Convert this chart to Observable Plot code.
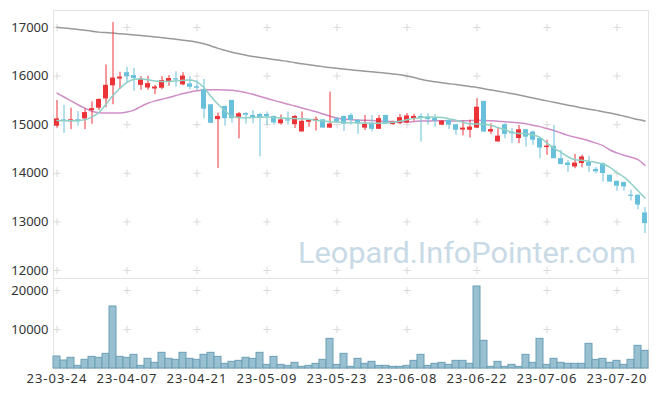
<!DOCTYPE html>
<html><head><meta charset="utf-8">
<script src="https://cdn.jsdelivr.net/npm/d3@7"></script>
<script src="https://cdn.jsdelivr.net/npm/@observablehq/plot@0.6"></script>
<style>
body{margin:0;background:#fff;}
#wrap{position:relative;width:657px;height:396px;overflow:hidden;}
#wrap svg{position:absolute;left:0;}
</style></head><body><div id="wrap"></div>
<script>
const dates = ["23-03-24","23-03-27","23-03-28","23-03-29","23-03-30","23-03-31","23-04-03","23-04-04","23-04-05","23-04-06",
"23-04-07","23-04-10","23-04-11","23-04-12","23-04-13","23-04-14","23-04-17","23-04-18","23-04-19","23-04-20",
"23-04-21","23-04-24","23-04-25","23-04-26","23-04-27","23-04-28","23-05-02","23-05-03","23-05-04","23-05-08",
"23-05-09","23-05-10","23-05-11","23-05-12","23-05-15","23-05-16","23-05-17","23-05-18","23-05-19","23-05-22",
"23-05-23","23-05-24","23-05-25","23-05-26","23-05-30","23-05-31","23-06-01","23-06-02","23-06-05","23-06-07",
"23-06-08","23-06-09","23-06-12","23-06-13","23-06-14","23-06-15","23-06-16","23-06-19","23-06-20","23-06-21",
"23-06-22","23-06-23","23-06-26","23-06-27","23-06-28","23-06-29","23-06-30","23-07-03","23-07-04","23-07-05",
"23-07-06","23-07-07","23-07-10","23-07-11","23-07-12","23-07-13","23-07-14","23-07-17","23-07-18","23-07-19",
"23-07-20","23-07-21","23-07-24","23-07-25","23-07-26"];

const open = [14970,15100,15060,15100,15120,15290,15340,15530,15800,15940,
16070,16010,15810,15755,15735,15750,15890,15945,15820,15840,
15780,15720,15410,15105,15375,15500,15125,15230,15190,15210,
15210,15170,15020,15100,15000,14850,15050,15075,15100,14930,
15120,15170,15190,15090,14930,15020,14905,15190,15000,15020,
15035,15125,15170,15155,15125,14990,15090,15000,14890,14885,
14930,15480,14850,14645,15000,14850,14715,14895,14850,14715,
14530,14555,14300,14210,14130,14200,14220,14080,14200,13960,
13835,13810,13550,13550,13185];
const high = [15500,15400,15340,15270,15330,15470,15530,16230,17100,16080,
16180,16160,15990,16000,15810,15990,16010,16090,16070,15990,
15910,15930,15410,15240,15380,15500,15250,15250,15290,15230,
15260,15180,15200,15260,15190,15260,15100,15160,15110,15670,
15140,15180,15230,15100,15190,15190,15190,15195,15070,15210,
15230,15210,15225,15226,15210,15080,15100,15010,15070,15090,
15535,15480,15020,14930,15020,14920,14985,14900,14870,14730,
14680,14985,14470,14260,14390,14370,14350,14120,14210,13965,
13840,13820,13650,13555,13295];
const low = [14930,14820,14900,14970,14900,15010,15290,15350,15410,15730,
15860,15690,15710,15710,15620,15720,15790,15770,15800,15720,
15700,15120,15020,14100,14970,15030,14710,15010,15020,14340,
14990,14990,14990,14990,14920,14850,14950,14870,14930,14920,
15030,14860,14990,14800,14880,14850,14900,15000,14990,15000,
15020,15070,14640,14990,14950,14980,14900,14780,14770,14725,
14920,14840,14795,14640,14710,14610,14610,14540,14575,14300,
14370,14300,14175,14020,14095,14115,14020,13990,13820,13815,
13630,13630,13430,13250,12760];
const close = [15120,15070,15100,15060,15250,15330,15520,15810,15960,15980,
15990,15950,15925,15845,15775,15910,15950,15920,16000,15770,
15750,15320,15030,15170,15125,15125,15225,15195,15140,15140,
15170,15035,15100,15075,15170,15070,15090,15110,14930,15015,
15055,15010,15090,15020,15005,14905,15125,15020,15055,15145,
15180,15170,15130,15105,15075,15075,14990,14885,14930,14950,
15360,14850,14900,14765,14800,14815,14895,14745,14680,14520,
14560,14300,14180,14160,14210,14335,14145,14030,13995,13820,
13735,13720,13525,13345,12965];
const volume = [3080,2050,2740,680,2220,2990,2740,3760,15900,2990,
2740,3500,680,2480,1450,4020,2480,2220,4020,2480,
2220,3500,4020,2990,1200,1710,1960,2740,2480,4020,
940,2990,940,680,1450,430,680,1200,2220,7600,
940,3760,430,2480,1200,1710,680,680,430,430,
680,1960,3500,680,1200,1450,940,1960,1960,1200,
21030,7100,430,1710,430,940,430,3500,1450,7600,
940,2480,1450,1200,1200,1200,6320,2220,2480,1450,
1960,940,2220,5810,4530];
const ma5 = [15085,15080,15080,15085,15100,15160,15250,15420,15600,15750,
15870,15935,15945,15925,15900,15890,15890,15900,15915,15920,
15880,15760,15580,15420,15290,15170,15150,15145,15150,15155,
15157,15150,15140,15130,15125,15120,15110,15090,15075,15060,
15055,15045,15040,15035,15035,15030,15030,15035,15050,15070,
15100,15130,15150,15157,15155,15150,15120,15090,15050,15020,
15015,15010,14990,14940,14900,14840,14820,14815,14790,14740,
14620,14520,14430,14340,14280,14270,14250,14220,14190,14120,
14010,13920,13790,13640,13490];
const ma20 = [15650,15570,15490,15410,15340,15275,15245,15240,15240,15240,
15260,15300,15375,15440,15490,15525,15560,15600,15640,15675,
15700,15715,15719,15719,15715,15707,15690,15660,15625,15580,
15540,15500,15460,15420,15385,15345,15305,15265,15220,15175,
15140,15115,15100,15095,15090,15085,15078,15072,15065,15058,
15058,15065,15075,15078,15080,15080,15078,15078,15080,15085,
15090,15088,15080,15070,15060,15050,15040,15020,14990,14960,
14920,14880,14830,14780,14740,14710,14670,14620,14570,14480,
14420,14370,14330,14280,14160];
const ma120 = [17005,16990,16975,16960,16945,16925,16905,16895,16885,16872,
16860,16848,16835,16820,16805,16790,16775,16758,16740,16720,
16695,16665,16620,16570,16530,16490,16460,16430,16405,16385,
16360,16340,16320,16300,16275,16255,16235,16215,16195,16175,
16160,16145,16130,16115,16100,16090,16075,16060,16045,16030,
16000,15970,15935,15905,15885,15865,15845,15825,15805,15785,
15765,15740,15715,15690,15665,15640,15610,15580,15550,15520,
15490,15460,15430,15400,15375,15345,15320,15295,15265,15240,
15210,15175,15140,15105,15075];
const tickDates = ["23-03-24","23-04-07","23-04-21","23-05-09","23-05-23","23-06-08","23-06-22","23-07-06","23-07-20"];
const priceTicks = [12000,13000,14000,15000,16000,17000];
const volumeTicks = [10000,20000];
const watermark = "Leopard.InfoPointer.com";

const UP = "#ec3338", DOWN = "#68c0da", FRAME = "#e3e3e3", PLUS = "#d9d9d9";
const rows = dates.map((d, i) => ({date: d, open: open[i], high: high[i], low: low[i], close: close[i],
  volume: volume[i], ma5: ma5[i], ma20: ma20[i], ma120: ma120[i],
  color: close[i] >= open[i] ? UP : DOWN}));
const gridMain = tickDates.flatMap(d => priceTicks.map(p => ({date: d, v: p})));
const gridVol = tickDates.flatMap(d => volumeTicks.map(p => ({date: d, v: p})));

const font = {fontSize: "13px", fontFamily: "'Noto Sans', sans-serif", color: "#333", background: "transparent"};
const W = 657;

const main = Plot.plot({
  width: W, height: 279,
  marginLeft: 53, marginRight: 9, marginTop: 10, marginBottom: 1,
  style: font,
  x: {type: "band", domain: dates, padding: 0, axis: null},
  y: {domain: [11835, 17350], ticks: priceTicks, tickSize: 0, tickPadding: 5, label: null, tickFormat: d => String(d)},
  color: {type: "identity"},
  marks: [
    Plot.frame({stroke: FRAME}),
    Plot.dot(gridMain, {x: "date", y: "v", symbol: "plus", r: 2.5, stroke: PLUS, strokeWidth: 1}),
    Plot.line(rows, {x: "date", y: "ma120", stroke: "#999999", strokeWidth: 1.5, curve: "monotone-x"}),
    Plot.line(rows, {x: "date", y: "ma20", stroke: "#cf8dc6", strokeWidth: 1.5, curve: "monotone-x"}),
    Plot.ruleX(rows, {x: "date", y1: "low", y2: "high", stroke: "color", strokeWidth: 1}),
    Plot.barY(rows, {x: "date", y1: "open", y2: "close", fill: "color", insetLeft: 1, insetRight: 1}),
    Plot.line(rows, {x: "date", y: "ma5", stroke: "#8ed0c6", strokeWidth: 1.5, curve: "monotone-x"})
  ]
});
main.style.top = "0px";

d3.select(main).insert("text", "g")
  .attr("x", 298).attr("y", 263)
  .attr("text-anchor", "start")
  .attr("font-size", 30)
  .attr("font-family", "Roboto, sans-serif")
  .attr("fill", "#c8dae6")
  .attr("textLength", 338)
  .attr("lengthAdjust", "spacingAndGlyphs")
  .text(watermark);

const vol = Plot.plot({
  width: W, height: 119,
  marginLeft: 53, marginRight: 9, marginTop: 1, marginBottom: 28,
  style: font,
  x: {type: "band", domain: dates, padding: 0, ticks: tickDates, tickSize: 0, tickPadding: 5, label: null},
  y: {domain: [0, 23077], ticks: volumeTicks, tickSize: 0, tickPadding: 5, label: null, tickFormat: d => String(d)},
  marks: [
    Plot.frame({stroke: FRAME}),
    Plot.dot(gridVol, {x: "date", y: "v", symbol: "plus", r: 2.5, stroke: PLUS, strokeWidth: 1}),
    Plot.barY(rows, {x: "date", y: "volume", fill: "#98c0d0", stroke: "#6c9fb6", strokeWidth: 1})
  ]
});
vol.style.top = "277px";
// widen the date labels slightly, as in the reference
d3.select(vol).selectAll("g[aria-label='x-axis tick label'] text, g[aria-label='x-axis'] text")
  .attr("letter-spacing", "1px");

document.getElementById("wrap").append(main, vol);
</script>
</body></html>
